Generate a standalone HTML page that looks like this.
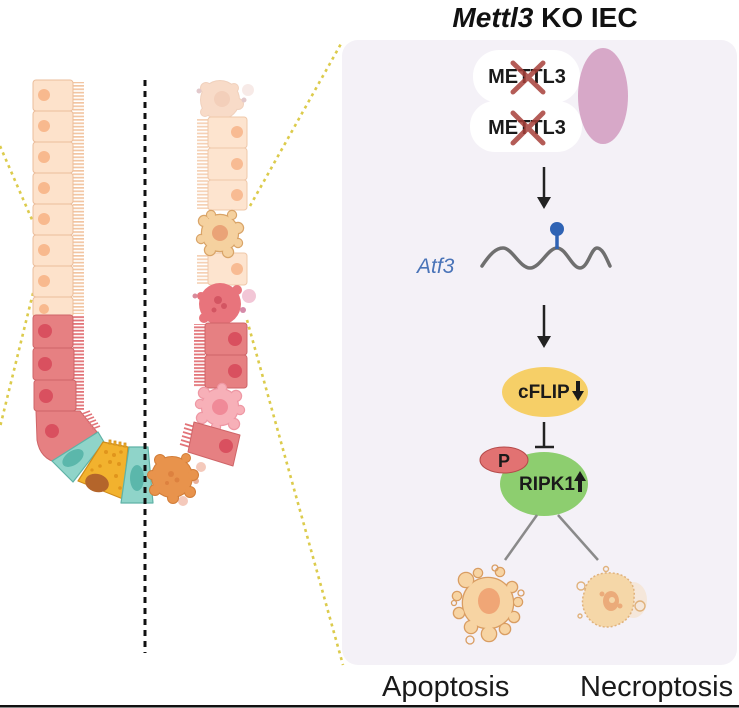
<!DOCTYPE html>
<html><head><meta charset="utf-8"><style>
html,body{margin:0;padding:0;background:#fff;}
svg{display:block;}
text{font-family:"Liberation Sans",Arial,sans-serif;}
</style></head><body>
<svg width="739" height="708" viewBox="0 0 739 708" xmlns="http://www.w3.org/2000/svg">
<defs>
<pattern id="mvP" patternUnits="userSpaceOnUse" width="20" height="3.4"><rect x="0" y="0" width="20" height="1.7" fill="#f2c5a2"/></pattern>
<pattern id="mvR" patternUnits="userSpaceOnUse" width="20" height="3.4"><rect x="0" y="0" width="20" height="1.8" fill="#e27479"/></pattern>
</defs>

<!-- panel -->
<rect x="342" y="40" width="395" height="625" rx="16" fill="#f4f1f7"/>

<!-- yellow dotted connectors -->
<g stroke="#dccb4c" stroke-width="2.6" stroke-dasharray="3 4" fill="none">
<line x1="0" y1="146" x2="33" y2="222"/>
<line x1="33" y1="293" x2="0" y2="427"/>
<line x1="250" y1="206" x2="342" y2="42"/>
<line x1="247" y1="320" x2="343" y2="665"/>
</g>

<!-- LEFT column: microvilli -->
<rect x="73" y="82" width="11" height="232" fill="url(#mvP)"/>
<rect x="73" y="316" width="11" height="95" fill="url(#mvR)"/>
<!-- peach cells left -->
<g fill="#fde2cb" stroke="#ebbd9b" stroke-width="1">
<rect x="33" y="80" width="40" height="31" rx="3"/>
<rect x="33" y="111" width="40" height="31" rx="3"/>
<rect x="33" y="142" width="40" height="31" rx="3"/>
<rect x="33" y="173" width="40" height="31" rx="3"/>
<rect x="33" y="204" width="40" height="31" rx="3"/>
<rect x="33" y="235" width="40" height="31" rx="3"/>
<rect x="33" y="266" width="40" height="31" rx="3"/>
<rect x="33" y="297" width="40" height="20" rx="3"/>
</g>
<g fill="#f8b98e">
<circle cx="44" cy="95" r="6"/><circle cx="44" cy="126" r="6"/><circle cx="44" cy="157" r="6"/>
<circle cx="44" cy="188" r="6"/><circle cx="44" cy="219" r="6"/><circle cx="44" cy="250" r="6"/>
<circle cx="44" cy="281" r="6"/><circle cx="44" cy="309" r="5"/>
</g>
<!-- red cells left -->
<g fill="#e68082" stroke="#cf6568" stroke-width="1">
<rect x="33" y="315" width="40" height="33" rx="3"/>
<rect x="33" y="348" width="41" height="32" rx="3"/>
<rect x="34" y="380" width="42" height="31" rx="3"/>
<path d="M36,411 L80,411 L97,432 L58,463 Q40,459 37,440 Z" stroke-linejoin="round"/>
</g>
<g stroke="#e27479" stroke-width="1.6">
<line x1="82" y1="414" x2="90" y2="411"/><line x1="84" y1="417" x2="92" y2="414"/><line x1="86" y1="420" x2="94" y2="417"/>
<line x1="88" y1="423" x2="96" y2="420"/><line x1="90" y1="426" x2="98" y2="423"/><line x1="92" y1="429" x2="100" y2="426"/>
</g>
<g fill="#d9505f">
<circle cx="45" cy="331" r="7"/><circle cx="45" cy="364" r="7"/><circle cx="46" cy="396" r="7"/><circle cx="52" cy="431" r="7"/>
</g>
<!-- teal cell 1 -->
<path d="M52,461 L98,432 L104,442 L73,482 Z" fill="#8fd4c9" stroke="#5fb2a6" stroke-width="1.2" stroke-linejoin="round"/>
<ellipse cx="73" cy="458" rx="12" ry="7" transform="rotate(-35 73 458)" fill="#5bb7ab"/>
<!-- paneth cell -->
<path d="M103,442 L128,447 L123,499 L78,481 Z" fill="#f2b22e" stroke="#d08c1a" stroke-width="1.2" stroke-linejoin="round"/>
<g fill="#f2b22e" stroke="#d08c1a" stroke-width="0.8">
<rect x="109" y="440" width="2" height="4"/><rect x="114" y="441" width="2" height="4"/><rect x="119" y="442" width="2" height="4"/><rect x="124" y="443" width="2" height="4"/>
</g>
<g fill="#e0951c">
<circle cx="106" cy="452" r="2"/><circle cx="114" cy="455" r="2"/><circle cx="121" cy="452" r="1.8"/><circle cx="110" cy="462" r="2"/>
<circle cx="119" cy="464" r="2"/><circle cx="100" cy="466" r="1.8"/><circle cx="116" cy="476" r="2"/><circle cx="120" cy="488" r="1.8"/><circle cx="92" cy="470" r="1.6"/>
</g>
<ellipse cx="97" cy="483" rx="12" ry="9" transform="rotate(15 97 483)" fill="#b4652b"/>
<!-- teal cell 2 -->
<path d="M129,447 L148,447 L153,503 L121,503 Z" fill="#8fd4c9" stroke="#5fb2a6" stroke-width="1.2" stroke-linejoin="round"/>
<ellipse cx="137" cy="478" rx="7" ry="13" fill="#5bb7ab"/>

<!-- RIGHT column -->
<!-- top faded blob -->
<g opacity="0.75">
<g fill="#f6d0b6" stroke="#ecc2a8" stroke-width="2">
<circle cx="220" cy="100" r="19"/><circle cx="206" cy="88" r="5"/><circle cx="234" cy="88" r="4"/><circle cx="238" cy="104" r="5"/><circle cx="205" cy="112" r="4"/>
</g>
<g fill="#f6d0b6"><circle cx="220" cy="100" r="19"/><circle cx="206" cy="88" r="5"/><circle cx="234" cy="88" r="4"/><circle cx="238" cy="104" r="5"/><circle cx="205" cy="112" r="4"/></g>
<circle cx="222" cy="99" r="8" fill="#f0bfa3"/>
<circle cx="199" cy="91" r="2.5" fill="#d9b8bc"/><circle cx="244" cy="100" r="2.5" fill="#d9b8bc"/><circle cx="248" cy="90" r="6" fill="#f5e4e0"/>
</g>
<!-- microvilli right (peach) -->
<rect x="197" y="118" width="11" height="91" fill="url(#mvP)" opacity="0.8"/>
<rect x="197" y="254" width="11" height="30" fill="url(#mvP)" opacity="0.8"/>
<g fill="#fde4cf" stroke="#efc8aa" stroke-width="1">
<rect x="208" y="117" width="39" height="31" rx="3"/>
<rect x="208" y="148" width="39" height="32" rx="3"/>
<rect x="208" y="180" width="39" height="30" rx="3"/>
<rect x="208" y="253" width="39" height="32" rx="3"/>
</g>
<g fill="#f8bb93">
<circle cx="237" cy="132" r="6"/><circle cx="237" cy="164" r="6"/><circle cx="237" cy="195" r="6"/><circle cx="237" cy="269" r="6"/>
</g>
<!-- beige apoptotic -->
<g fill="#f5d19f" stroke="#d9a468" stroke-width="2.4">
<circle cx="220" cy="233" r="18"/><circle cx="204" cy="221" r="5"/><circle cx="211" cy="215" r="4"/><circle cx="232" cy="215" r="4"/><circle cx="238" cy="228" r="5"/><circle cx="238" cy="243" r="4"/><circle cx="228" cy="252" r="5"/><circle cx="210" cy="250" r="5"/><circle cx="201" cy="239" r="4"/>
</g>
<g fill="#f5d19f"><circle cx="220" cy="233" r="18"/><circle cx="204" cy="221" r="5"/><circle cx="211" cy="215" r="4"/><circle cx="232" cy="215" r="4"/><circle cx="238" cy="228" r="5"/><circle cx="238" cy="243" r="4"/><circle cx="228" cy="252" r="5"/><circle cx="210" cy="250" r="5"/><circle cx="201" cy="239" r="4"/></g>
<circle cx="220" cy="233" r="8" fill="#eaa377"/>
<!-- red necrotic blob -->
<circle cx="249" cy="296" r="7" fill="#f2c6d6"/><circle cx="243" cy="310" r="3" fill="#d58aa8"/>
<g fill="#e8747c">
<circle cx="220" cy="304" r="21"/><circle cx="201" cy="296" r="4"/><circle cx="237" cy="290" r="5"/><circle cx="204" cy="318" r="5"/>
</g>
<circle cx="195" cy="296" r="2.5" fill="#d98a9a"/>
<g fill="#cf4e5c" opacity="0.8"><circle cx="218" cy="300" r="4"/><circle cx="224" cy="306" r="3"/><circle cx="214" cy="310" r="2.5"/></g>
<!-- red cells right -->
<rect x="194" y="324" width="11" height="63" fill="url(#mvR)"/>
<g fill="#e68082" stroke="#cf6568" stroke-width="1">
<rect x="205" y="323" width="42" height="32" rx="3"/>
<rect x="205" y="355" width="42" height="33" rx="3"/>
</g>
<g fill="#d9505f"><circle cx="235" cy="339" r="7"/><circle cx="235" cy="371" r="7"/></g>
<!-- pink apoptotic -->
<g fill="#f7b0b8" stroke="#ee98a4" stroke-width="2.4">
<circle cx="220" cy="407" r="18"/><circle cx="204" cy="393" r="5"/><circle cx="222" cy="388" r="4"/><circle cx="236" cy="396" r="5"/><circle cx="240" cy="410" r="4"/><circle cx="234" cy="424" r="5"/><circle cx="216" cy="427" r="4"/><circle cx="202" cy="418" r="5"/><circle cx="200" cy="404" r="4"/>
</g>
<g fill="#f7b0b8"><circle cx="220" cy="407" r="18"/><circle cx="204" cy="393" r="5"/><circle cx="222" cy="388" r="4"/><circle cx="236" cy="396" r="5"/><circle cx="240" cy="410" r="4"/><circle cx="234" cy="424" r="5"/><circle cx="216" cy="427" r="4"/><circle cx="202" cy="418" r="5"/><circle cx="200" cy="404" r="4"/></g>
<circle cx="220" cy="407" r="8" fill="#f08a98"/>
<!-- slanted red cell -->
<g stroke="#e27479" stroke-width="1.7">
<line x1="185" y1="424" x2="195" y2="427"/><line x1="184" y1="428" x2="194" y2="431"/><line x1="183" y1="432" x2="193" y2="435"/>
<line x1="182" y1="436" x2="192" y2="439"/><line x1="181" y1="440" x2="191" y2="443"/><line x1="180" y1="444" x2="190" y2="447"/>
</g>
<path d="M194,422 L240,435 L233,466 L188,452 Z" fill="#e68082" stroke="#cf6568" stroke-width="1" stroke-linejoin="round"/>
<circle cx="226" cy="446" r="7" fill="#d9505f"/>
<!-- orange apoptotic bottom -->
<circle cx="201" cy="467" r="5" fill="#f4c9bb"/><circle cx="196" cy="481" r="3" fill="#e9b09a"/><circle cx="183" cy="501" r="5" fill="#f4c9bb"/>
<g fill="#e8934c" stroke="#d27d38" stroke-width="2">
<circle cx="172" cy="477" r="20"/><circle cx="160" cy="460" r="5"/><circle cx="186" cy="458" r="4"/><circle cx="193" cy="475" r="5"/><circle cx="190" cy="492" r="5"/><circle cx="173" cy="498" r="5"/><circle cx="155" cy="490" r="5"/><circle cx="152" cy="475" r="4"/>
</g>
<g fill="#e8934c"><circle cx="172" cy="477" r="20"/><circle cx="160" cy="460" r="5"/><circle cx="186" cy="458" r="4"/><circle cx="193" cy="475" r="5"/><circle cx="190" cy="492" r="5"/><circle cx="173" cy="498" r="5"/><circle cx="155" cy="490" r="5"/><circle cx="152" cy="475" r="4"/></g>
<g fill="#d97a3a" opacity="0.7"><circle cx="171" cy="474" r="3"/><circle cx="177" cy="480" r="2.5"/><circle cx="167" cy="483" r="2"/></g>

<!-- black dotted midline -->
<line x1="145" y1="80" x2="145" y2="653" stroke="#111" stroke-width="3" stroke-dasharray="6 5"/>

<!-- title -->
<text x="545" y="27" text-anchor="middle" font-size="28" font-weight="bold" fill="#111"><tspan font-style="italic">Mettl3</tspan> KO IEC</text>

<!-- METTL3 complex -->
<rect x="473" y="50" width="107" height="53" rx="26" fill="#fff"/>
<rect x="470" y="101" width="112" height="51" rx="25" fill="#fff"/>
<ellipse cx="603" cy="96" rx="25" ry="48" fill="#d7a8c8"/>
<text x="527" y="83" text-anchor="middle" font-size="20" font-weight="bold" fill="#1a1a1a">METTL3</text>
<text x="527" y="134" text-anchor="middle" font-size="20" font-weight="bold" fill="#1a1a1a">METTL3</text>
<g stroke="#a8403a" stroke-width="5" stroke-linecap="round" opacity="0.85">
<line x1="513" y1="63" x2="543" y2="92"/><line x1="543" y1="63" x2="513" y2="92"/>
<line x1="513" y1="113" x2="543" y2="143"/><line x1="543" y1="113" x2="513" y2="143"/>
</g>

<!-- arrow 1 -->
<line x1="544" y1="167" x2="544" y2="199" stroke="#222" stroke-width="2.5"/>
<polygon points="537,197 551,197 544,209" fill="#222"/>

<!-- Atf3 mRNA -->
<text x="417" y="273" font-size="21" font-style="italic" fill="#4a74b8">Atf3</text>
<path d="M482,266 C490,254 496,248 503,248 C512,248 520,268 530,268 C540,268 548,248 557,248 C566,248 572,268 580,268 C588,268 591,248 597,248 C603,248 607,260 610,266" fill="none" stroke="#6f6f6f" stroke-width="3.5" stroke-linecap="round"/>
<line x1="557" y1="249" x2="557" y2="233" stroke="#2f63b4" stroke-width="3.5"/>
<circle cx="557" cy="229" r="7" fill="#2f63b4"/>

<!-- arrow 2 -->
<line x1="544" y1="305" x2="544" y2="338" stroke="#222" stroke-width="2.5"/>
<polygon points="537,336 551,336 544,348" fill="#222"/>

<!-- cFLIP -->
<ellipse cx="545" cy="392" rx="43" ry="25" fill="#f6cf67"/>
<text x="518" y="398" font-size="19" font-weight="bold" fill="#1a1a1a">cFLIP</text>
<rect x="576" y="381" width="4" height="12" fill="#1a1a1a"/>
<polygon points="572,391 584,391 578,401" fill="#1a1a1a"/>

<!-- inhibition -->
<line x1="544" y1="422" x2="544" y2="447" stroke="#222" stroke-width="2.5"/>
<line x1="535" y1="447" x2="554" y2="447" stroke="#222" stroke-width="2.5"/>

<!-- RIPK1 -->
<ellipse cx="544" cy="484" rx="44" ry="32" fill="#8dce6f"/>
<ellipse cx="504" cy="460" rx="24" ry="13" fill="#e27272" stroke="#b44a4a" stroke-width="1"/>
<text x="504" y="467" text-anchor="middle" font-size="18" font-weight="bold" fill="#1a1a1a">P</text>
<text x="519" y="490" font-size="19" font-weight="bold" fill="#1a1a1a">RIPK1</text>
<polygon points="574,481 586,481 580,471" fill="#1a1a1a"/>
<rect x="578" y="480" width="4" height="12" fill="#1a1a1a"/>

<!-- branch lines -->
<line x1="537" y1="515" x2="505" y2="560" stroke="#8a8a8a" stroke-width="2.5"/>
<line x1="558" y1="515" x2="598" y2="560" stroke="#8a8a8a" stroke-width="2.5"/>

<!-- apoptotic cell -->
<g fill="#f7d4a3" stroke="#d99d62" stroke-width="2.6">
<circle cx="488" cy="603" r="25"/><circle cx="466" cy="580" r="7"/><circle cx="478" cy="573" r="4"/><circle cx="500" cy="572" r="4"/>
<circle cx="512" cy="587" r="5"/><circle cx="518" cy="602" r="4"/><circle cx="514" cy="617" r="5"/><circle cx="505" cy="629" r="5"/>
<circle cx="489" cy="634" r="7"/><circle cx="471" cy="627" r="6"/><circle cx="459" cy="613" r="5"/><circle cx="457" cy="596" r="4"/>
</g>
<g fill="#f7d4a3">
<circle cx="488" cy="603" r="25"/><circle cx="466" cy="580" r="7"/><circle cx="478" cy="573" r="4"/><circle cx="500" cy="572" r="4"/>
<circle cx="512" cy="587" r="5"/><circle cx="518" cy="602" r="4"/><circle cx="514" cy="617" r="5"/><circle cx="505" cy="629" r="5"/>
<circle cx="489" cy="634" r="7"/><circle cx="471" cy="627" r="6"/><circle cx="459" cy="613" r="5"/><circle cx="457" cy="596" r="4"/>
</g>
<g fill="none" stroke="#d99d62" stroke-width="1.3">
<circle cx="495" cy="568" r="3"/><circle cx="521" cy="593" r="3"/><circle cx="454" cy="603" r="2.5"/><circle cx="470" cy="640" r="4"/>
</g>
<ellipse cx="489" cy="601" rx="11" ry="13" fill="#f0a676"/>

<!-- necroptotic cell -->
<ellipse cx="633" cy="600" rx="14" ry="18" fill="#f5e2cd" opacity="0.7"/>
<g fill="#f5d7a8" stroke="#e0b27c" stroke-width="1.5" stroke-dasharray="2 2">
<path d="M585,590 C588,576 600,572 612,573 C626,574 636,583 634,598 C634,612 628,622 614,626 C600,630 588,622 584,610 C581,602 583,596 585,590 Z"/>
</g>
<g fill="#eba776" opacity="0.9">
<ellipse cx="611" cy="601" rx="8" ry="10"/><circle cx="602" cy="594" r="2.5"/><circle cx="620" cy="606" r="2.5"/>
</g>
<circle cx="612" cy="600" r="3" fill="#f5d7a8"/>
<g fill="none" stroke="#e0b27c" stroke-width="1.4">
<circle cx="581" cy="586" r="4"/><circle cx="640" cy="606" r="5"/><circle cx="606" cy="569" r="2.5"/><circle cx="580" cy="616" r="2"/>
</g>

<!-- labels -->
<text x="382" y="696" font-size="29" fill="#1a1a1a">Apoptosis</text>
<text x="580" y="696" font-size="29" fill="#1a1a1a">Necroptosis</text>

<!-- bottom rule -->
<rect x="0" y="705" width="739" height="2.5" fill="#111"/>
</svg>
</body></html>
